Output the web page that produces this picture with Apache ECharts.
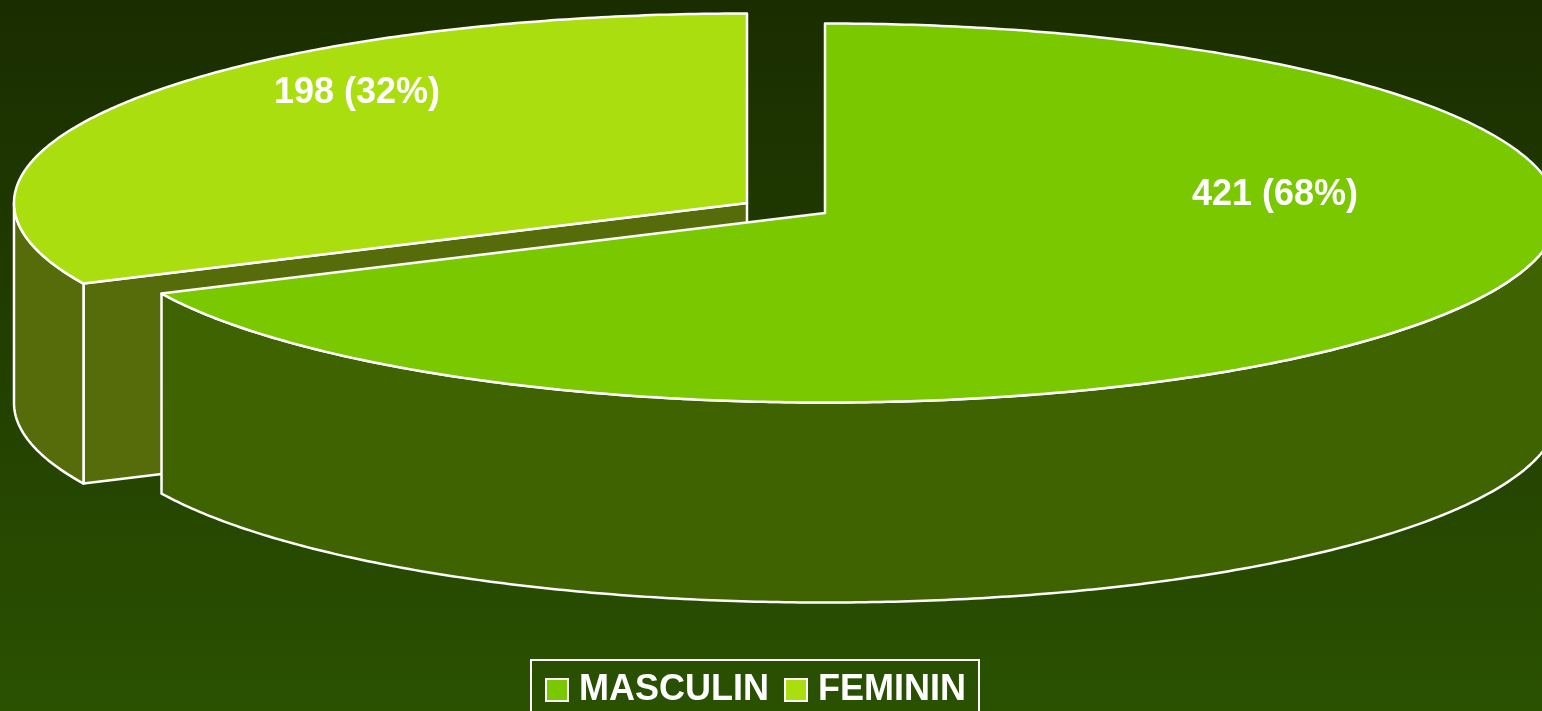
<!DOCTYPE html>
<html><head><meta charset="utf-8">
<script src="https://cdn.jsdelivr.net/npm/echarts@6/dist/echarts.min.js"></script>
<style>html,body{margin:0;padding:0;background:#1b2f00}#c{width:1542px;height:711px}</style>
</head><body><div id="c"></div>
<script>
// ---- data ----
const categories = ['MASCULIN', 'FEMININ'];
const values = [421, 198];

// ---- styles / layout ----
const topColors = ['#7ac900', '#aade0f'];
const sideColors = ['#3e6300', '#566c0a'];
const RX = 733, RY = 189.5, DEPTH = 200;
const BASE = [825, 213];
const explodeOffset = [[0, 0], [-78, -10]];
const labelAnchor = [[0.614, -0.095], [-0.532, -0.58]];
const FONT = 'bold 36px "Liberation Sans", Arial, sans-serif';

const total = values.reduce((a, b) => a + b, 0);
const startVal = values.map((v, i) => values.slice(0, i).reduce((a, b) => a + b, 0));

function makeRender(i) {
  return function (params, api) {
    const v = api.value(0);
    const a0 = startVal[i] / total * Math.PI * 2;
    const a1 = (startVal[i] + v) / total * Math.PI * 2;
    const cx = BASE[0] + explodeOffset[i][0];
    const cy = BASE[1] + explodeOffset[i][1];
    const P = (t, z) => [cx + RX * Math.sin(t), cy - RY * Math.cos(t) + z];
    const arc = (t0, t1, z) => {
      const n = Math.max(8, Math.ceil(Math.abs(t1 - t0) / 0.01));
      const pts = [];
      for (let k = 0; k <= n; k++) pts.push(P(t0 + (t1 - t0) * k / n, z));
      return pts;
    };
    const line = {stroke: '#ffffff', lineWidth: 2.5, lineJoin: 'round'};
    const children = [];
    const sideStyle = Object.assign({fill: sideColors[i]}, line);
    if (Math.sin(a0) < -1e-6) {
      children.push({type: 'polygon', shape: {points: [[cx, cy], P(a0, 0), P(a0, DEPTH), [cx, cy + DEPTH]]}, style: sideStyle});
    }
    if (Math.sin(a1) > 1e-6) {
      children.push({type: 'polygon', shape: {points: [[cx, cy], P(a1, 0), P(a1, DEPTH), [cx, cy + DEPTH]]}, style: sideStyle});
    }
    const lo = Math.max(a0, Math.PI / 2), hi = Math.min(a1, Math.PI * 1.5);
    if (hi > lo) {
      const pts = arc(lo, hi, 0).concat(arc(hi, lo, DEPTH));
      children.push({type: 'polygon', shape: {points: pts}, style: sideStyle});
    }
    children.push({type: 'polygon', shape: {points: [[cx, cy]].concat(arc(a0, a1, 0))},
      style: Object.assign({fill: topColors[i]}, line)});
    const pct = Math.round(v / total * 100);
    children.push({type: 'text', style: {
      text: v + ' (' + pct + '%)',
      x: cx + labelAnchor[i][0] * RX, y: cy + labelAnchor[i][1] * RY,
      fill: '#ffffff', font: FONT, align: 'center', verticalAlign: 'middle'
    }});
    return {type: 'group', children};
  };
}

const series = categories.map((name, i) => ({
  type: 'custom',
  name: name,
  coordinateSystem: 'none',
  z: i === 0 ? 3 : 2,
  itemStyle: {color: topColors[i]},
  data: [[values[i]]],
  renderItem: makeRender(i),
  silent: true,
  animation: false
}));

const chart = echarts.init(document.getElementById('c'));
chart.setOption({
  animation: false,
  backgroundColor: new echarts.graphic.LinearGradient(0, 0, 0, 1, [
    {offset: 0, color: '#1a2d00'}, {offset: 1, color: '#2a5100'}
  ]),
  legend: {
    data: categories,
    left: 531, top: 660,
    icon: 'rect',
    itemWidth: 22, itemHeight: 22, itemGap: 15,
    borderColor: '#ffffff', borderWidth: 2,
    padding: [12, 13, 20, 14],
    itemStyle: {borderColor: '#ffffff', borderWidth: 2},
    textStyle: {color: '#ffffff', fontSize: 36, fontWeight: 'bold', fontFamily: '"Liberation Sans", Arial, sans-serif', padding: [0, 0, 0, 6]},
    selectedMode: false
  },
  series: series
});
</script>
</body></html>
